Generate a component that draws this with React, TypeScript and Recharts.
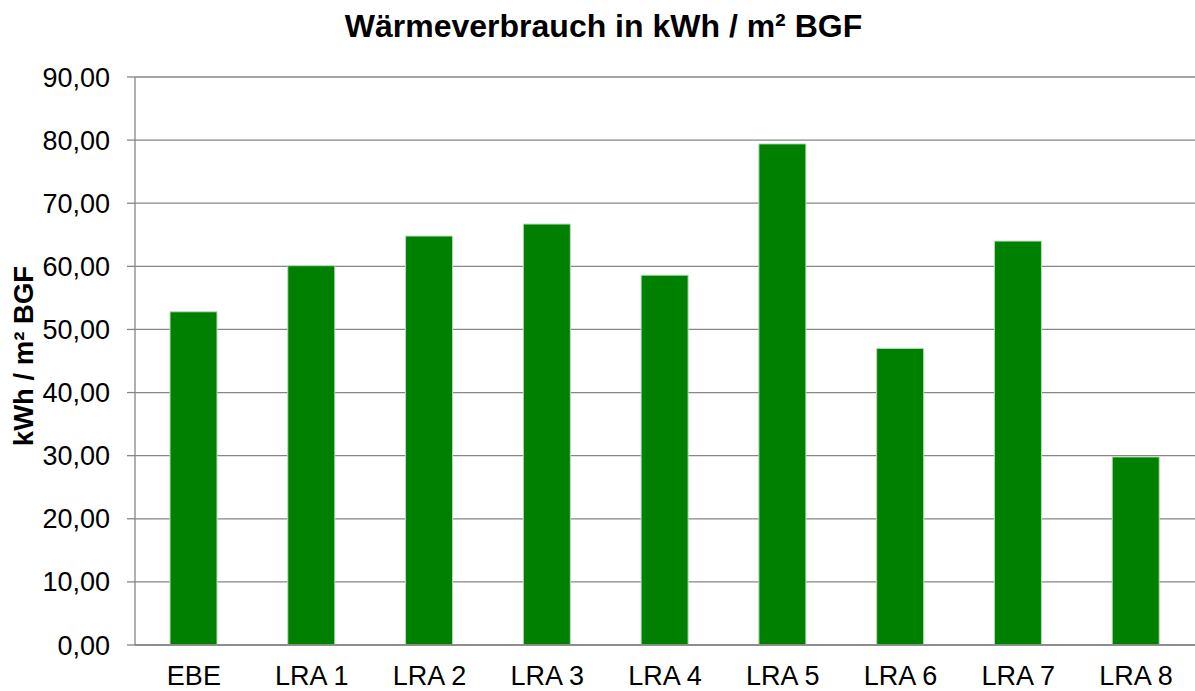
import * as React from "react";
import { BarChart, Bar, XAxis, YAxis, CartesianGrid } from "recharts";

const categories = ["EBE", "LRA 1", "LRA 2", "LRA 3", "LRA 4", "LRA 5", "LRA 6", "LRA 7", "LRA 8"];
const consumption = [52.8, 60.1, 64.8, 66.7, 58.6, 79.4, 47.0, 64.0, 29.8];
const yTicks = [0, 10, 20, 30, 40, 50, 60, 70, 80, 90];
// boundaries between the categories, where the x-axis tick marks sit
const edgeTicks = [0, 1, 2, 3, 4, 5, 6, 7, 8, 9];

const data = categories.map((name, i) => ({ name, value: consumption[i] }));

const FONT = '"Liberation Sans", Arial, sans-serif';
const GRAY = "#868686";

function YLabel(props: any) {
  const vb = props.viewBox || { y: 77, height: 568 };
  const cy = vb.y + vb.height / 2 - 5;
  return (
    <text
      x={23}
      y={cy}
      transform={`rotate(-90, 23, ${cy})`}
      textAnchor="middle"
      dominantBaseline="central"
      fontFamily={FONT}
      fontWeight="bold"
      fontSize={27.5}
      fill="#000"
    >
      kWh / m² BGF
    </text>
  );
}

export default function App() {
  return (
    <div style={{ position: "absolute", left: 0, top: 0, width: 1195, height: 691, background: "#fff" }}>
      <div
        style={{
          position: "absolute",
          left: 0,
          top: 8,
          width: 1195,
          textAlign: "center",
          fontFamily: FONT,
          fontWeight: "bold",
          fontSize: 32,
          lineHeight: "36px",
          paddingLeft: 6,
        }}
      >
        Wärmeverbrauch in kWh / m² BGF
      </div>
      <BarChart
        width={1195}
        height={691}
        data={data}
        margin={{ top: 77, right: 0, bottom: 0, left: 0 }}
        barSize={47}
      >
        <CartesianGrid vertical={false} stroke={GRAY} strokeWidth={1.3} />
        <XAxis
          xAxisId="edges"
          type="number"
          domain={[0, 9]}
          ticks={edgeTicks}
          interval={0}
          height={0}
          axisLine={false}
          tickLine={{ stroke: GRAY, strokeWidth: 1.3 }}
          tickSize={7}
          tickFormatter={() => ""}
        />
        <XAxis
          dataKey="name"
          height={46}
          interval={0}
          axisLine={{ stroke: GRAY, strokeWidth: 1.3 }}
          tickLine={false}
          tickSize={7}
          tickMargin={14}
          tick={{ fontSize: 27, fill: "#000", fontFamily: FONT }}
        />
        <YAxis
          width={135}
          domain={[0, 90]}
          ticks={yTicks}
          interval={0}
          tickFormatter={(v: number) => v.toFixed(2).replace(".", ",")}
          axisLine={{ stroke: GRAY, strokeWidth: 1.3 }}
          tickLine={{ stroke: GRAY, strokeWidth: 1.3 }}
          tickSize={8}
          tickMargin={17}
          tick={{ fontSize: 27, fill: "#000", fontFamily: FONT }}
          label={<YLabel />}
        />
        <Bar dataKey="value" fill="#008000" stroke="#b8dcb8" strokeWidth={1} isAnimationActive={false} />
      </BarChart>
    </div>
  );
}
